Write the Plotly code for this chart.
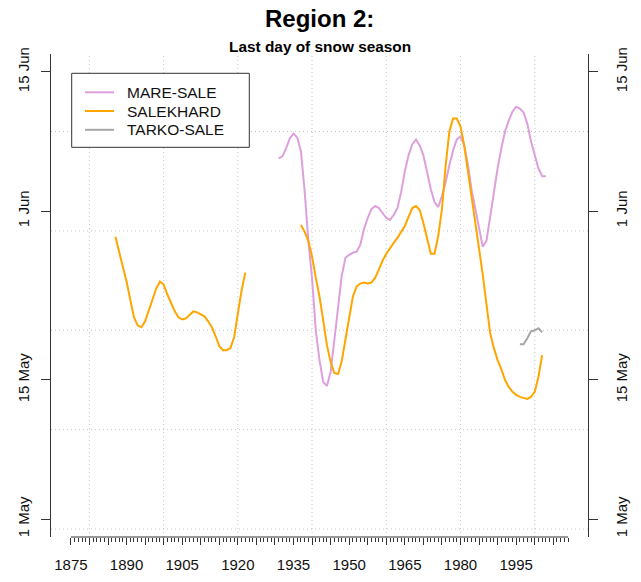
import plotly.graph_objects as go

# Smoothed last day of the snow season, as day of year (121 = 1 May, 166 = 15 Jun)
mare_years = list(range(1931, 2004))
mare_days = [
    157.3, 157.5, 158.3, 159.3, 159.8, 159.4, 158.0, 154.0, 149.0, 145.2,  # 1931-1940
    140.0, 137.0, 134.8, 134.4, 135.8, 139.0, 142.6, 145.5, 147.3, 147.6,  # 1941-1950
    147.8, 147.9, 148.6, 150.2, 151.3, 152.2, 152.5, 152.3, 151.8, 151.3,  # 1951-1960
    151.1, 151.6, 152.3, 153.9, 156.0, 157.6, 158.7, 159.2, 158.6, 157.6,  # 1961-1970
    155.9, 154.2, 152.9, 152.4, 153.5, 154.9, 156.6, 158.1, 159.2, 159.5,  # 1971-1980
    158.6, 156.7, 154.1, 152.3, 150.3, 148.4, 149.0, 151.5, 154.0, 156.3,  # 1981-1990
    158.3, 160.0, 161.1, 162.0, 162.5, 162.3, 161.9, 160.8, 159.0, 157.7,  # 1991-2000
    156.3, 155.5, 155.5,                                                  # 2001-2003
]

salekhard_years = list(range(1887, 2003))
salekhard_days = [
    149.4, 147.9, 146.5,                                                  # 1887-1889
    144.9, 143.1, 141.3, 140.5, 140.3, 140.9, 142.0, 143.1, 144.2, 144.9,  # 1890-1899
    144.6, 143.6, 142.7, 141.9, 141.3, 141.1, 141.2, 141.6, 141.9, 141.8,  # 1900-1909
    141.6, 141.4, 140.9, 140.3, 139.4, 138.4, 138.0, 138.0, 138.2, 139.3,  # 1910-1919
    141.7, 144.0, 145.8,                                                  # 1920-1922
    None, None, None, None, None, None, None, None, None, None,            # 1923-1932
    None, None, None, None,                                               # 1933-1936
    150.6, 149.9, 149.0,                                                  # 1937-1939
    147.4, 145.3, 143.4, 141.0, 138.5, 136.8, 135.7, 135.6, 136.9, 139.1,  # 1940-1949
    141.2, 143.4, 144.4, 144.7, 144.8, 144.7, 144.8, 145.3, 146.1, 147.0,  # 1950-1959
    147.7, 148.3, 148.8, 149.3, 149.9, 150.5, 151.4, 152.3, 152.5, 152.1,  # 1960-1969
    150.8, 149.1, 147.7, 147.7, 149.5, 152.2, 156.6, 160.0, 161.3, 161.3,  # 1970-1979
    160.5, 158.6, 156.0, 153.6, 150.8, 148.4, 145.6, 142.6, 139.7, 138.2,  # 1980-1989
    137.0, 136.1, 135.0, 134.3, 133.8, 133.5, 133.3, 133.2, 133.1, 133.3,  # 1990-1999
    133.8, 135.3, 137.5,                                                  # 2000-2002
]

tarko_years = list(range(1996, 2003))
tarko_days = [138.6, 138.6, 139.2, 139.9, 140.0, 140.2, 139.8]

station_names = ["MARE-SALE", "SALEKHARD", "TARKO-SALE"]
station_colors = ["#DDA0DD", "#FFA500", "#A6A6A6"]

date_ticks = [121, 135, 152, 166]
date_labels = ["1 May", "15 May", "1 Jun", "15 Jun"]
x_first, x_last = 1875, 2009
label_step = 15

# Plot limits: data limits padded by 4 % on each side
x_pad = 0.04 * (x_last - x_first)
y_lo, y_hi = date_ticks[0], date_ticks[-1]
y_pad = 0.04 * (y_hi - y_lo)
x_range = [x_first - x_pad, x_last + x_pad]
y_range = [y_lo - y_pad, y_hi + y_pad]

W, H = 641, 582
M_L, M_R, M_T, M_B = 51, 53, 54, 45
plot_w = W - M_L - M_R
plot_h = H - M_T - M_B


def px_x(px):
    return (px - M_L) / plot_w


def px_y(py):
    return (H - M_B - py) / plot_h


fig = go.Figure()
series = [
    (mare_years, mare_days, "y"),
    (salekhard_years, salekhard_days, "y"),
    (tarko_years, tarko_days, "y2"),   # right-hand axis shares the same date scale
]
for (years, days, yax), name, color in zip(series, station_names, station_colors):
    fig.add_trace(go.Scatter(
        x=years, y=days, name=name, mode="lines", yaxis=yax,
        line=dict(color=color, width=2), connectgaps=False, showlegend=False,
    ))

axis_col = "#333333"
grid_col = "#C4C4C4"
font_fam = "Liberation Sans, Arial, sans-serif"
text_col = "#111111"

shapes = []
# dotted grid
for yr in range(1880, 2001, 20):
    shapes.append(dict(type="line", xref="x", yref="paper", x0=yr, x1=yr, y0=0, y1=1,
                       line=dict(color=grid_col, width=1, dash="1px,3px"), layer="below"))
for d in range(120, 161, 10):
    shapes.append(dict(type="line", xref="paper", yref="y", x0=0, x1=1, y0=d, y1=d,
                       line=dict(color=grid_col, width=1, dash="1px,3px"), layer="below"))
# bottom axis line spanning the tick range
shapes.append(dict(type="line", xref="x", yref="paper", x0=x_first, x1=x_last, y0=0, y1=0,
                   line=dict(color=axis_col, width=1)))

# legend: frame, line keys and labels
annotations = []
shapes.append(dict(type="rect", xref="paper", yref="paper",
                   x0=px_x(71.7), x1=px_x(249.3), y0=px_y(147.3), y1=px_y(73.3),
                   line=dict(color=axis_col, width=1), fillcolor="white"))
legend_rows = [92.3, 111.0, 129.8]
for row_y, name, color in zip(legend_rows, station_names, station_colors):
    shapes.append(dict(type="line", xref="paper", yref="paper",
                       x0=px_x(85), x1=px_x(114), y0=px_y(row_y), y1=px_y(row_y),
                       line=dict(color=color, width=2)))
    annotations.append(dict(text=name, xref="paper", yref="paper",
                            x=px_x(125), y=px_y(row_y), xanchor="left", yanchor="middle",
                            showarrow=False,
                            font=dict(family=font_fam, size=15.5, color=text_col)))

annotations += [
    dict(text="<b>Region 2:</b>", xref="paper", yref="paper",
         x=0.5, y=px_y(19), xanchor="center", yanchor="middle", showarrow=False,
         font=dict(family=font_fam, size=24, color="#000000")),
    dict(text="<b>Last day of snow season</b>", xref="paper", yref="paper",
         x=0.5, y=px_y(47), xanchor="center", yanchor="middle", showarrow=False,
         font=dict(family=font_fam, size=15.4, color="#000000")),
]

major_vals = list(range(x_first, x_last + 1, 5))
major_text = [str(v) if (v - x_first) % label_step == 0 and v < x_last - 5 else "" for v in major_vals]
minor_vals = [v for v in range(x_first, x_last + 1) if v % 5 != 0]

yaxis_common = dict(
    range=y_range, tickmode="array", tickvals=date_ticks, ticktext=date_labels,
    ticks="outside", ticklen=9, tickwidth=1, tickcolor=axis_col,
    showline=True, linecolor=axis_col, linewidth=1,
    showgrid=False, zeroline=False, tickangle=-90, automargin=False,
    tickfont=dict(family=font_fam, size=15, color=text_col),
)

fig.update_layout(
    width=W, height=H,
    margin=dict(l=M_L, r=M_R, t=M_T, b=M_B, pad=0, autoexpand=False),
    paper_bgcolor="white", plot_bgcolor="white",
    showlegend=False,
    xaxis=dict(
        range=x_range, tickmode="array", tickvals=major_vals, ticktext=major_text,
        ticks="outside", ticklen=7, tickwidth=1, tickcolor=axis_col,
        minor=dict(tickmode="array", tickvals=minor_vals, ticks="outside", ticklen=4,
                   tickwidth=1, tickcolor=axis_col, showgrid=False),
        showline=False, showgrid=False, zeroline=False, automargin=False,
        ticklabelstandoff=7,
        tickfont=dict(family=font_fam, size=15, color=text_col),
    ),
    yaxis=dict(**yaxis_common, side="left", ticklabelstandoff=6),
    yaxis2=dict(**yaxis_common, side="right", overlaying="y", anchor="x",
                ticklabelstandoff=11),
    shapes=shapes,
    annotations=annotations,
)

fig.write_html("out.html")
